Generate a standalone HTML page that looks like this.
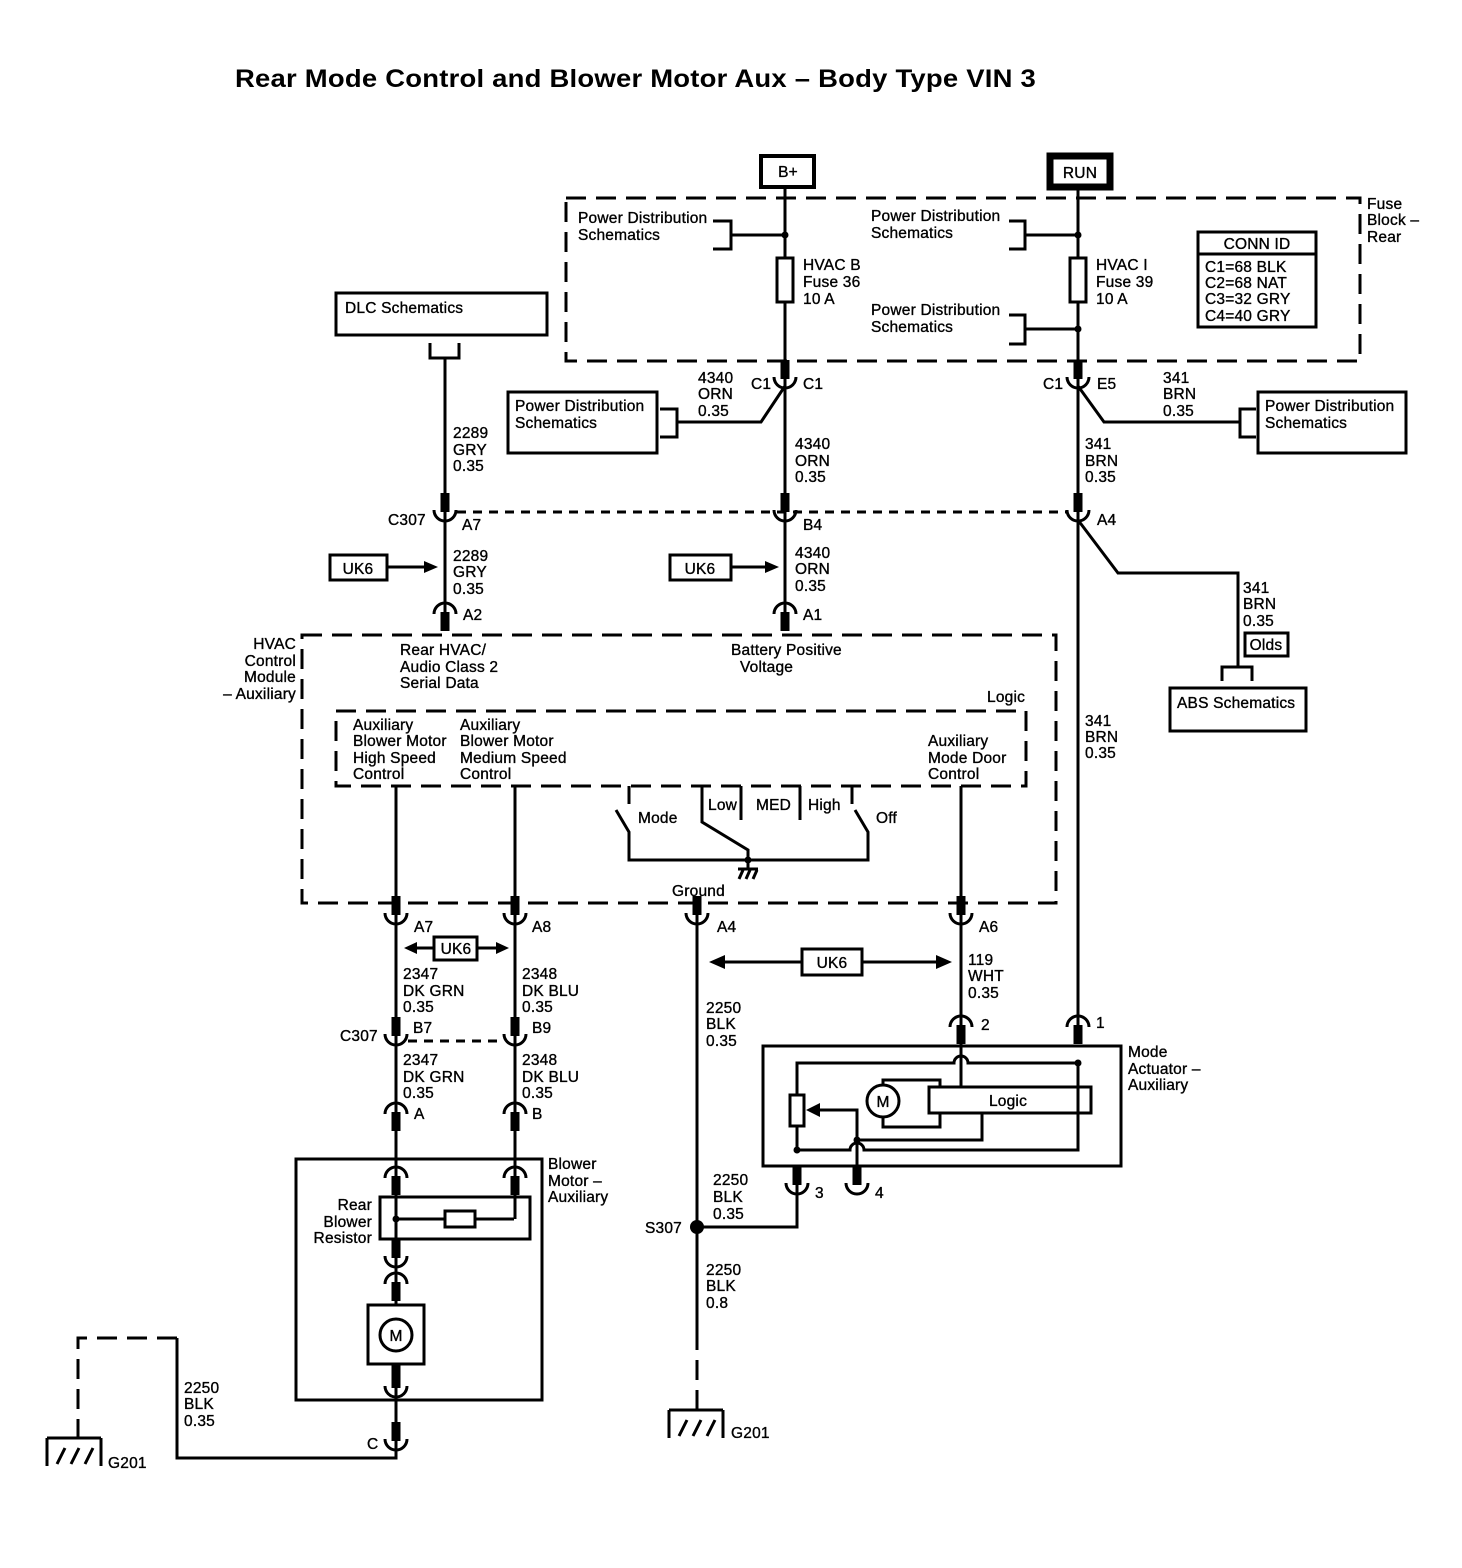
<!DOCTYPE html>
<html><head><meta charset="utf-8"><style>
html,body{margin:0;padding:0;background:#fff}
svg{display:block}
text{font-family:"Liberation Sans",Arial,sans-serif;font-size:15.5px;fill:#000;stroke:#000;stroke-width:0.35;letter-spacing:0.2px}
.t{font-size:25px;font-weight:bold;stroke:none}
.w{stroke:#000;stroke-width:3;fill:none}
.d{stroke:#000;stroke-width:3;fill:none;stroke-dasharray:20 10}
.ds{stroke:#000;stroke-width:3;fill:none;stroke-dasharray:9 7}
.r{text-anchor:end}
.m{text-anchor:middle}
</style></head><body>
<svg width="1462" height="1568" viewBox="0 0 1462 1568" xmlns="http://www.w3.org/2000/svg">
<defs>
<g id="cup"><rect x="-4.5" y="-17" width="9" height="19" fill="#000"/><path d="M-11,0 A11,11 0 0 0 11,0" stroke="#000" stroke-width="3" fill="none"/></g>
<g id="cap"><rect x="-4.5" y="-2" width="9" height="19" fill="#000"/><path d="M-11,0 A11,11 0 0 1 11,0" stroke="#000" stroke-width="3" fill="none"/></g>
<g id="gnd"><path d="M0,0 H54 M0,0 V28 M54,0 V28 M10,26 L18,10 M24,26 L32,10 M38,26 L46,10" stroke="#000" stroke-width="3" fill="none"/></g>
</defs>

<text x="235" y="87" class="t" textLength="801" lengthAdjust="spacingAndGlyphs">Rear Mode Control and Blower Motor Aux –  Body Type VIN 3</text>

<!-- B+ / RUN -->
<rect x="761" y="156" width="53" height="31" fill="none" stroke="#000" stroke-width="4"/>
<text x="788" y="177" class="m">B+</text>
<rect x="1050" y="156" width="60" height="31" fill="none" stroke="#000" stroke-width="7"/>
<text x="1080" y="178" class="m">RUN</text>

<!-- Fuse block -->
<rect x="566" y="198" width="794" height="163" class="d"/>
<text x="1367" y="209">Fuse</text><text x="1367" y="225">Block –</text><text x="1367" y="242">Rear</text>

<path class="w" d="M785,188 V612 M1078,190 V1025"/>
<circle cx="785" cy="235" r="3.5"/><circle cx="1078" cy="235" r="3.5"/><circle cx="1078" cy="329" r="3.5"/>
<rect x="777" y="258" width="16" height="44" fill="#fff" stroke="#000" stroke-width="3"/>
<rect x="1070" y="258" width="16" height="44" fill="#fff" stroke="#000" stroke-width="3"/>
<text x="578" y="223">Power Distribution</text><text x="578" y="240">Schematics</text>
<path class="w" d="M713,221 H731 V249 H713 M731,235 H785"/>
<text x="803" y="270">HVAC B</text><text x="803" y="287">Fuse 36</text><text x="803" y="304">10 A</text>
<text x="871" y="221">Power Distribution</text><text x="871" y="238">Schematics</text>
<path class="w" d="M1009,221 H1025 V249 H1009 M1025,235 H1078"/>
<text x="871" y="315">Power Distribution</text><text x="871" y="332">Schematics</text>
<path class="w" d="M1009,315 H1025 V344 H1009 M1025,329 H1078"/>
<text x="1096" y="270">HVAC I</text><text x="1096" y="287">Fuse 39</text><text x="1096" y="304">10 A</text>
<rect x="1198" y="232" width="118" height="95" fill="none" stroke="#000" stroke-width="3"/>
<path class="w" d="M1198,254 H1316"/>
<text x="1257" y="249" class="m">CONN ID</text>
<text x="1205" y="272">C1=68 BLK</text><text x="1205" y="288">C2=68 NAT</text><text x="1205" y="304">C3=32 GRY</text><text x="1205" y="321">C4=40 GRY</text>

<!-- C1 connectors -->
<use href="#cup" x="785" y="377"/><use href="#cup" x="1078" y="377"/>
<text x="751" y="389">C1</text><text x="803" y="389">C1</text>
<text x="1043" y="389">C1</text><text x="1097" y="389">E5</text>
<path class="w" d="M785,386 L761,422 H678 M660,409 H677 V437 H660"/>
<rect x="508" y="392" width="149" height="61" fill="none" stroke="#000" stroke-width="3"/>
<text x="515" y="411">Power Distribution</text><text x="515" y="428">Schematics</text>
<text x="698" y="383">4340</text><text x="698" y="399">ORN</text><text x="698" y="416">0.35</text>
<text x="795" y="449">4340</text><text x="795" y="466">ORN</text><text x="795" y="482">0.35</text>
<path class="w" d="M1078,386 L1104,422 H1240 M1256,409 H1240 V437 H1256"/>
<rect x="1258" y="392" width="148" height="61" fill="none" stroke="#000" stroke-width="3"/>
<text x="1265" y="411">Power Distribution</text><text x="1265" y="428">Schematics</text>
<text x="1163" y="383">341</text><text x="1163" y="399">BRN</text><text x="1163" y="416">0.35</text>
<text x="1085" y="449">341</text><text x="1085" y="466">BRN</text><text x="1085" y="482">0.35</text>

<!-- DLC -->
<rect x="336" y="293" width="211" height="42" fill="none" stroke="#000" stroke-width="3"/>
<text x="345" y="313">DLC Schematics</text>
<path class="w" d="M430,343 V358 H459 V343 M445,358 V612"/>
<text x="453" y="438">2289</text><text x="453" y="455">GRY</text><text x="453" y="471">0.35</text>

<!-- C307 top -->
<path class="ds" d="M457,512 H1068"/>
<use href="#cup" x="445" y="510"/><use href="#cup" x="785" y="510"/><use href="#cup" x="1078" y="510"/>
<text x="388" y="525">C307</text><text x="462" y="530">A7</text><text x="803" y="530">B4</text><text x="1097" y="525">A4</text>

<rect x="330" y="555" width="57" height="25" fill="none" stroke="#000" stroke-width="3"/>
<text x="358" y="574" class="m">UK6</text>
<path class="w" d="M387,567 H425"/><path d="M438,567 L424,561 V573 Z"/>
<rect x="670" y="555" width="61" height="25" fill="none" stroke="#000" stroke-width="3"/>
<text x="700" y="574" class="m">UK6</text>
<path class="w" d="M731,567 H766"/><path d="M779,567 L765,561 V573 Z"/>
<text x="453" y="561">2289</text><text x="453" y="577">GRY</text><text x="453" y="594">0.35</text>
<text x="795" y="558">4340</text><text x="795" y="574">ORN</text><text x="795" y="591">0.35</text>
<use href="#cap" x="445" y="614"/><use href="#cap" x="785" y="614"/>
<text x="463" y="620">A2</text><text x="803" y="620">A1</text>

<!-- ABS branch -->
<path class="w" d="M1078,520 L1118,573 H1238 V667 M1222,681 V667 H1252 V681"/>
<text x="1243" y="593">341</text><text x="1243" y="609">BRN</text><text x="1243" y="626">0.35</text>
<rect x="1245" y="633" width="43" height="23" fill="none" stroke="#000" stroke-width="3"/>
<text x="1266" y="650" class="m">Olds</text>
<rect x="1170" y="688" width="136" height="43" fill="none" stroke="#000" stroke-width="3"/>
<text x="1177" y="708">ABS Schematics</text>
<text x="1085" y="726">341</text><text x="1085" y="742">BRN</text><text x="1085" y="758">0.35</text>

<!-- HVAC module -->
<rect x="302" y="635" width="754" height="268" class="d"/>
<text x="296" y="649" class="r">HVAC</text><text x="296" y="666" class="r">Control</text><text x="296" y="682" class="r">Module</text><text x="296" y="699" class="r">– Auxiliary</text>
<text x="400" y="655">Rear HVAC/</text><text x="400" y="672">Audio Class 2</text><text x="400" y="688">Serial Data</text>
<text x="731" y="655">Battery Positive</text><text x="740" y="672">Voltage</text>
<rect x="336" y="711" width="690" height="75" class="d"/>
<text x="987" y="702">Logic</text>
<text x="353" y="730">Auxiliary</text><text x="353" y="746">Blower Motor</text><text x="353" y="763">High Speed</text><text x="353" y="779">Control</text>
<text x="460" y="730">Auxiliary</text><text x="460" y="746">Blower Motor</text><text x="460" y="763">Medium Speed</text><text x="460" y="779">Control</text>
<text x="928" y="746">Auxiliary</text><text x="928" y="763">Mode Door</text><text x="928" y="779">Control</text>

<!-- switch -->
<path class="w" d="M629,786 V804 M616,810 L629,832 V860 H868 V832 L855,810 M852,786 V804 M702,786 V822 L748,850 V860 M741,786 V820 M800,786 V820 M748,860 V868"/>
<circle cx="748" cy="860" r="3.5"/>
<path class="w" d="M738,869 H758 M739,879 L743,870 M746,879 L750,870 M753,879 L757,870" stroke-width="2"/>
<text x="638" y="823">Mode</text><text x="708" y="810">Low</text><text x="756" y="810">MED</text><text x="808" y="810">High</text><text x="876" y="823">Off</text>
<text x="672" y="896">Ground</text>

<!-- bottom wires -->
<path class="w" d="M396,786 V1458 H177 V1338 M515,786 V1219 M961,786 V1088 M697,903 V1330 M697,1227 H797 V1183"/>
<path class="d" d="M697,1330 V1410"/>
<use href="#cup" x="396" y="913"/><use href="#cup" x="515" y="913"/><use href="#cup" x="697" y="913"/><use href="#cup" x="961" y="913"/>
<text x="414" y="932">A7</text><text x="532" y="932">A8</text><text x="717" y="932">A4</text><text x="979" y="932">A6</text>
<path class="w" d="M415,948 H434 M477,948 H497"/><path d="M404,948 L417,942 V954 Z"/><path d="M509,948 L496,942 V954 Z"/>
<rect x="434" y="937" width="43" height="23" fill="none" stroke="#000" stroke-width="3"/>
<text x="456" y="954" class="m">UK6</text>
<path class="w" d="M722,962 H802 M862,962 H938"/><path d="M709,962 L725,955 V969 Z"/><path d="M952,962 L936,955 V969 Z"/>
<rect x="802" y="949" width="60" height="26" fill="none" stroke="#000" stroke-width="3"/>
<text x="832" y="968" class="m">UK6</text>
<text x="403" y="979">2347</text><text x="403" y="996">DK GRN</text><text x="403" y="1012">0.35</text>
<text x="522" y="979">2348</text><text x="522" y="996">DK BLU</text><text x="522" y="1012">0.35</text>
<text x="968" y="965">119</text><text x="968" y="981">WHT</text><text x="968" y="998">0.35</text>
<text x="706" y="1013">2250</text><text x="706" y="1029">BLK</text><text x="706" y="1046">0.35</text>

<path class="ds" d="M408,1041 H503"/>
<use href="#cup" x="396" y="1034"/><use href="#cup" x="515" y="1034"/>
<text x="340" y="1041">C307</text><text x="413" y="1033">B7</text><text x="532" y="1033">B9</text>
<text x="403" y="1065">2347</text><text x="403" y="1082">DK GRN</text><text x="403" y="1098">0.35</text>
<text x="522" y="1065">2348</text><text x="522" y="1082">DK BLU</text><text x="522" y="1098">0.35</text>
<use href="#cap" x="396" y="1114"/><use href="#cap" x="515" y="1114"/>
<text x="414" y="1119">A</text><text x="532" y="1119">B</text>

<!-- Blower motor -->
<rect x="296" y="1159" width="246" height="241" fill="none" stroke="#000" stroke-width="3"/>
<text x="548" y="1169">Blower</text><text x="548" y="1186">Motor –</text><text x="548" y="1202">Auxiliary</text>
<use href="#cap" x="396" y="1178"/><use href="#cap" x="515" y="1178"/>
<rect x="380" y="1197" width="150" height="42" fill="none" stroke="#000" stroke-width="3"/>
<path class="w" d="M396,1219 H445 M475,1219 H514"/>
<circle cx="396" cy="1219" r="3.5"/>
<rect x="445" y="1211" width="30" height="16" fill="#fff" stroke="#000" stroke-width="3"/>
<text x="372" y="1210" class="r">Rear</text><text x="372" y="1227" class="r">Blower</text><text x="372" y="1243" class="r">Resistor</text>
<rect x="391.5" y="1239" width="9" height="14" fill="#000"/>
<use href="#cup" x="396" y="1256"/><use href="#cap" x="396" y="1284"/>
<rect x="368" y="1305" width="56" height="59" fill="#fff" stroke="#000" stroke-width="3"/>
<circle cx="396" cy="1335" r="16" fill="#fff" stroke="#000" stroke-width="3"/>
<text x="396" y="1341" class="m">M</text>
<rect x="391.5" y="1364" width="9" height="20" fill="#000"/>
<use href="#cup" x="396" y="1386"/>
<use href="#cup" x="396" y="1439"/>
<text x="367" y="1449">C</text>
<text x="184" y="1393">2250</text><text x="184" y="1409">BLK</text><text x="184" y="1426">0.35</text>
<path class="d" d="M177,1338 H78 V1438"/>
<use href="#gnd" x="47" y="1438"/>
<text x="108" y="1468">G201</text>

<!-- S307 ground -->
<circle cx="697" cy="1227" r="7"/>
<text x="645" y="1233">S307</text>
<text x="713" y="1185">2250</text><text x="713" y="1202">BLK</text><text x="713" y="1219">0.35</text>
<text x="706" y="1275">2250</text><text x="706" y="1291">BLK</text><text x="706" y="1308">0.8</text>
<use href="#gnd" x="669" y="1410"/>
<text x="731" y="1438">G201</text>

<!-- Mode actuator -->
<rect x="763" y="1046" width="358" height="120" fill="none" stroke="#000" stroke-width="3"/>
<text x="1128" y="1057">Mode</text><text x="1128" y="1074">Actuator –</text><text x="1128" y="1090">Auxiliary</text>
<use href="#cap" x="961" y="1027"/><use href="#cap" x="1078" y="1027"/>
<text x="981" y="1030">2</text><text x="1096" y="1028">1</text>
<path class="w" d="M797,1150 V1063 H954 A7,7 0 0 1 968,1063 H1078"/>
<circle cx="1078" cy="1063" r="3.5"/>
<path class="w" d="M1078,1063 V1150 H864 A7,7 0 0 0 850,1150 H797"/>
<circle cx="797" cy="1150" r="3.5"/>
<rect x="790" y="1095" width="14" height="31" fill="#fff" stroke="#000" stroke-width="3"/>
<rect x="929" y="1087" width="162" height="26" fill="#fff" stroke="#000" stroke-width="3"/>
<path class="w" d="M1078,1087 V1113"/>
<text x="1008" y="1106" class="m">Logic</text>
<path class="w" d="M883,1085 V1080 H940 V1087 M883,1117 V1127 H940 V1113"/>
<circle cx="883" cy="1101" r="16" fill="#fff" stroke="#000" stroke-width="3"/>
<text x="883" y="1107" class="m">M</text>
<path class="w" d="M857,1183 V1110 H818 M857,1140 H982 V1113"/>
<path d="M806,1110 L820,1103 V1117 Z"/>
<circle cx="857" cy="1140" r="3.5"/>
<use href="#cup" x="797" y="1183"/><use href="#cup" x="857" y="1183"/>
<text x="815" y="1198">3</text><text x="875" y="1198">4</text>
</svg>
</body></html>
